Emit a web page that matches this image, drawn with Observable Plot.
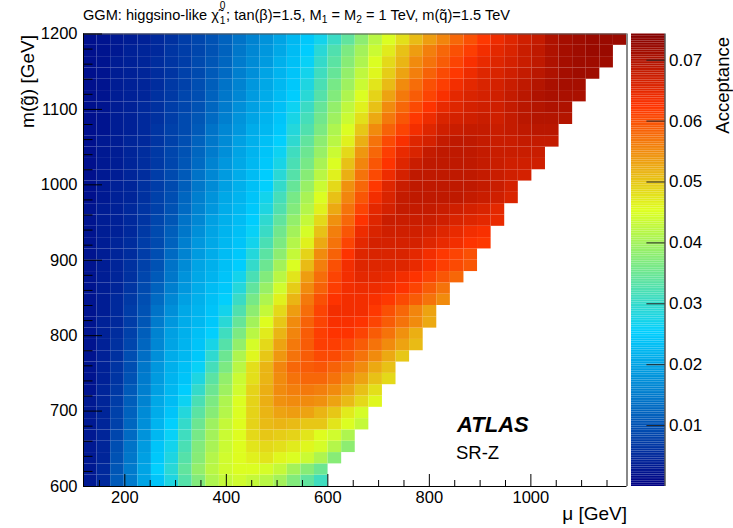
<!DOCTYPE html>
<html>
<head>
<meta charset="utf-8">
<script src="https://cdn.jsdelivr.net/npm/d3@7"></script>
<script src="https://cdn.jsdelivr.net/npm/@observablehq/plot@0.6"></script>
<style>
  body { margin: 0; background: #fff; }
  #wrap { position: relative; width: 733px; height: 528px; font-family: "Liberation Sans", Arial, Helvetica, sans-serif; overflow: hidden; }
  #title { position: absolute; left: 83px; top: 5px; font-size: 14.6px; line-height: 16px; white-space: nowrap; z-index: 3; color: #000; }
  #title sub { font-size: 0.7em; vertical-align: -0.3em; line-height: 0; }
  .ss { display: inline-block; position: relative; width: 0.5em; height: 1em; }
  .ss .up, .ss .dn { position: absolute; left: 0.08em; font-size: 0.7em; line-height: 1; }
  .ss .up { top: -0.35em; }
  .ss .dn { top: 1.05em; }
  #main { position: absolute; left: 0; top: 0; }
  #cbar { position: absolute; left: 631px; top: 0; }
</style>
</head>
<body>
<div id="wrap">
  <div id="title">GGM: higgsino-like &chi;&#771;<span class="ss"><span class="up">0</span><span class="dn">1</span></span>; tan(&beta;)=1.5, M<sub>1</sub> = M<sub>2</sub> = 1 TeV, m(q&#771;)=1.5 TeV</div>
  <div id="main"></div>
  <div id="cbar"></div>
</div>
<script>
// ---- data ----
const muRange = [118.6, 1189.4];   // mu [GeV], binned in 40 columns
const mgRange = [600, 1200];       // m(gluino) [GeV], binned in 40 rows
const nMuBins = 40;
const nMgBins = 40;
const muMajorTicks = [200, 400, 600, 800, 1000];
const mgMajorTicks = [600, 700, 800, 900, 1000, 1100, 1200];
const colorbarTicks = [0.01, 0.02, 0.03, 0.04, 0.05, 0.06, 0.07];
const acceptanceMax = 0.0743;
// acceptance in units of 1e-3; row 0 = lowest m(gluino) bin, column 0 = lowest mu bin
const acceptance = [
[3,5,11,15,20,24,28,33,37,41,43,44,43,42,40,37,34,31],
[3,5,10.5,15,20,25.5,29,34,38.5,42,44,45,45,44.5,43,40,37.5,35],
[3,4.5,10,14.5,19.5,24.5,28,33,37.5,41.5,44,45.5,46.5,47.5,46,45,43.5,41,37.5],
[3,4.5,9.5,14,19,24,27,32,37,40.5,43.5,45.5,47.5,48.5,48,47,46,44.5,41.5,38],
[3,4.5,8.5,13,18,22.5,26,31,36,40,43.5,45.5,48.5,50,49.5,49,47.5,45.5,44,41],
[3,4.5,8,12.5,17.5,22,25.5,30,35,39.5,43,45.5,49,51,51.5,51,50,50,47.5,45,43],
[3,4.5,8,12,17,21,24,28.5,33.5,37.5,41.5,45,49,51.5,53,53.5,53,51.5,50,47,44.5],
[3,4.5,7.5,11.5,16,20.5,23,26.5,32,36.5,41,45,49,52,54.5,55,55,54.5,53,51,48.5,46],
[2.5,4.5,7,11,15.5,19.5,22.5,25,30,35,39.5,44,49,52,55,56,56.5,56,55,53,50.5,48],
[2.5,4,6.5,10,15,19,22,24,28,33.5,38.5,43.5,48,51.5,55,57,58,58,57,55,53,50.5,48.5],
[2.5,4,6.5,9.5,14.5,18.5,21.5,23.5,26,31.5,36.5,42,48,51.5,55.5,58,59,59.5,58.5,57,55,52.5,50.5],
[2.5,4,6,9.5,13.5,17.5,21,22.5,24.5,29.5,35,41,46,50,54,57,59,60.5,60.5,59,57,55,52.5,50],
[2.5,4,6,8.5,12.5,16.5,20,22,24,27.5,33,38.5,44.5,48.5,53,56.5,59,61.5,61.5,60.5,59,57,55,53,51],
[2.5,4,5.5,8,11.5,16,19.5,21.5,23.5,25.5,31,36.5,42,47,51.5,55.5,59,61.5,62.5,62.5,61,59,57,54.5,52],
[2.5,4,5,7.5,10.5,15,18.5,21,22.5,24.5,29,34.5,40,45.5,50,55,58.5,61,63,63,62.5,61,59,57,55,52.5],
[2.5,3.5,5,7.5,10,14,17.5,20.5,22,24,27,32.5,38,43,48.5,53.5,57.5,61,63.5,63.5,63.5,62,60,58,55.5,53],
[2.5,3.5,5,7,9.5,13,16.5,19.5,21.5,23.5,25.5,30.5,36,41,46.5,51.5,56.5,60,62.5,63.5,63.5,63,62,60.5,59,57,55],
[2.5,3.5,4.5,6.5,9,12,15.5,18.5,21,23,24.5,28.5,34,39,44,49.5,55,58.5,61.5,63.5,64,64,63.5,62.5,61,59,57],
[2.5,3.5,4.5,6,8.5,11,14.5,18,20.5,22,24,27,32,37,42,47.5,53.5,57.5,61,63.5,65,65,64.5,63.5,62.5,61,59.5,58],
[2.5,3.5,4.5,6,8,10,14,17,20,21.5,23.5,25,30,35,40,45,51,56,60,63.5,65.5,65.5,65.5,65.5,64.5,63,61.5,60.5,59.5],
[2.5,3.5,4.5,5.5,7.5,9.5,13,16,19,21,23,24.5,28.5,33.5,38,43,49,55,58.5,62.5,65.5,66,66,66,65,63.5,62,61,60],
[2.5,3.5,4.5,5.5,7.5,9,12,15.5,18.5,20.5,22.5,24,27,32,36.5,41.5,46.5,52.5,57,61,65,66.5,66.5,66.5,66.5,65.5,64.5,63.5,62.5,62],
[2.5,3.5,4,5,7,9,11.5,14.5,17.5,20,22,23.5,26,30.5,35.5,40,44.5,50.5,56,59.5,64,66,67,67,67,66.5,65.5,64.5,63.5,63],
[2.5,3.5,4,5,6.5,8.5,10.5,14,16.5,19.5,21.5,23,25,29.5,34,38.5,43,48.5,54.5,58,62.5,65.5,67.5,67.5,67.5,67.5,67,66,65.5,65,64.5],
[2.5,3.5,4,5,6.5,8,10,13,16,18.5,21,22.5,24.5,28,32.5,37,41.5,46.5,52.5,57,61,65,66.5,68,68,68,67.5,67,66.5,66,65],
[2,3,4,4.5,6,8,9.5,12.5,15.5,18,20.5,22,24,27,31.5,36,40.5,45,50.5,55.5,59.5,63.5,66,68,68.5,68.5,68.5,68.5,68,67.5,67,66],
[2,3,4,4.5,6,7.5,9,11.5,14.5,17,19.5,21.5,23.5,25.5,30,34.5,39,43.5,48.5,54.5,58,62,65.5,67.5,68.5,68.5,68.5,68.5,68.5,68,67.5,66.5],
[2,3,3.5,4.5,5.5,7.5,9,11,14,16.5,19,21,23,25,29,33,37.5,42,46.5,52,57,60.5,64,66.5,68.5,68.5,68.5,68.5,68.5,68,67.5,67,66.5],
[2,3,3.5,4.5,5.5,7,8.5,10.5,13,16,18.5,20.5,22.5,24.5,27.5,32,36,40.5,45,50.5,55.5,59.5,62.5,65.5,67.5,68.5,68.5,68.5,68.5,68,67.5,67,67,67],
[2,3,3.5,4.5,5.5,7,8.5,10,12.5,15,17.5,20,22,24,26.5,31,35,39,43.5,48.5,54,58,61.5,64.5,66,68,68.5,68.5,68.5,68,67.5,67.5,67.5,67.5],
[2,3,3.5,4.5,5,6.5,8,9.5,12,14.5,17,19.5,21.5,23.5,25.5,29.5,34,38,42,46.5,52,57,60.5,63,65.5,66.5,68,68.5,68.5,68,67.5,67.5,68,68,68],
[2,2.5,3.5,4,5,6.5,8,9,11,14,16.5,18.5,21,22.5,24.5,28.5,32.5,36.5,41,45,50,55,58.5,61,63.5,65.5,67,67.5,68,68,67.5,68,68.5,69,69],
[2,2.5,3.5,4,5,6,7.5,9,10.5,13,15.5,18,20,22,24,27.5,31.5,35.5,39.5,43.5,48,52.5,56.5,59.5,62,64,66,66.5,67,67.5,67,68,69,69.5,69.5,69.5],
[2,2.5,3.5,4,5,6,7.5,8.5,10,12.5,15,17.5,19.5,21.5,23.5,26.5,30.5,34.5,38.5,42.5,46.5,50.5,55,58,60.5,62.5,64.5,65.5,66.5,67,67,68,69,69.5,70,70],
[2,2.5,3.5,4,4.5,6,7,8.5,9.5,12,14.5,16.5,19,21,23,25,29,33,37,41,45,49,53,56.5,59,61,63,65,66,66.5,67,68,69,70,70.5,70.5,70.5],
[2,2.5,3.5,4,4.5,5.5,7,8,9.5,11.5,14,16,18.5,20.5,22.5,24.5,28,32,36,39.5,43.5,47.5,51,55,57.5,60,61.5,63.5,65,66,66.5,67.5,68.5,69.5,70.5,71,71],
[2,2.5,3.5,4,4.5,5.5,6.5,8,9,11,13,15.5,17.5,20,22,24,27,31,34.5,38.5,42.5,46,49.5,53,56,58.5,60.5,62,64,65.5,66,67,68,69,70,71,71.5,71.5],
[2,2.5,3.5,4,4.5,5.5,6.5,7.5,9,10.5,12.5,15,17,19,21.5,23.5,26,30,33.5,37.5,41,45,48.5,51.5,55,57,59,61,63,64.5,65.5,66.5,67.5,68.5,70,71,71.5,71.5,71.5],
[2,2.5,3,4,4.5,5,6.5,7.5,8.5,10,12,14.5,16.5,18.5,20.5,23,25,29,32.5,36.5,40,43.5,47,50.5,53.5,56,58,60,61.5,63.5,65,66,67.5,68.5,70,71,71.5,72,72],
[2,2.5,3,3.5,4,5,6,7.5,8.5,10,12,14,16,18,20,22.5,24.5,27,30.5,34,38,42,45,48,51,53.5,55.5,58,60,62,64,65.5,67,68,70,71,71.5,72,72,72]
];

// ---- derived geometry (bin edges) ----
const muEdges = d3.range(nMuBins + 1).map(i => muRange[0] + i * (muRange[1] - muRange[0]) / nMuBins);
const mgEdges = d3.range(nMgBins + 1).map(i => mgRange[0] + i * (mgRange[1] - mgRange[0]) / nMgBins);
const cells = [];
acceptance.forEach((row, r) => row.forEach((v, c) => cells.push({
  x1: muEdges[c], x2: muEdges[c + 1], y1: mgEdges[r], y2: mgEdges[r + 1], value: v * 1e-3
})));
const muMinorTicks = d3.range(150, muRange[1], 50).filter(t => !muMajorTicks.includes(t));
const mgMinorTicks = d3.range(620, 1200, 20).filter(t => t % 100 !== 0);

const colorOpts = {
  type: "linear",
  domain: [0, 0.0253, 0.0453, 0.0624, acceptanceMax],
  range: ["#000083", "#00cfff", "#deff1f", "#ff3300", "#820000"],
  interpolate: "rgb",
  clamp: true
};

const font = '"Liberation Sans", Arial, Helvetica, sans-serif';
const W = 733, H = 528;
const mL = 83, mR = 106.5, mT = 33.5, mB = 42;
const frameW = W - mL - mR, frameH = H - mT - mB;

const main = Plot.plot({
  width: W, height: H,
  marginLeft: mL, marginRight: mR, marginTop: mT, marginBottom: mB,
  style: {fontFamily: font, fontSize: "16.5px", background: "white", color: "black"},
  x: {domain: muRange},
  y: {domain: mgRange},
  color: colorOpts,
  marks: [
    Plot.rect(cells, {x1: "x1", x2: "x2", y1: "y1", y2: "y2", fill: "value"}),
    // frame
    Plot.ruleY([mgRange[1]], {stroke: "#555", strokeWidth: 1}),
    Plot.ruleX([muRange[1]], {stroke: "#888", strokeWidth: 2}),
    Plot.ruleX([muRange[0]], {stroke: "black", strokeWidth: 1}),
    Plot.ruleY([mgRange[0]], {stroke: "black", strokeWidth: 1}),
    // inward ticks
    Plot.ruleX(muMajorTicks, {insetTop: frameH - 12, stroke: "black"}),
    Plot.ruleX(muMinorTicks, {insetTop: frameH - 6, stroke: "black"}),
    Plot.ruleY(mgMajorTicks, {insetRight: frameW - 19, stroke: "black"}),
    Plot.ruleY(mgMinorTicks, {insetRight: frameW - 9.5, stroke: "black"}),
    // tick labels
    Plot.axisX({ticks: muMajorTicks, tickSize: 0, tickPadding: 5, label: null, tickFormat: d => String(d), fontSize: 16.5}),
    Plot.axisY({ticks: mgMajorTicks, tickSize: 0, tickPadding: 6, label: null, tickFormat: d => String(d), fontSize: 16.5}),
    // axis titles
    Plot.text(["\u03bc [GeV]"], {frameAnchor: "bottom-right", textAnchor: "end", lineAnchor: "bottom", dy: 33, fontSize: 19}),
    Plot.text(["m(g\u0303) [GeV]"], {frameAnchor: "top-left", rotate: -90, textAnchor: "end", lineAnchor: "bottom", dx: -50, dy: 1, fontSize: 19}),
    // annotations
    Plot.text(["ATLAS"], {frameAnchor: "top-left", textAnchor: "start", lineAnchor: "bottom", dx: 373.5, dy: 398, fontSize: 22, fontWeight: "bold", fontStyle: "italic"}),
    Plot.text(["SR-Z"], {frameAnchor: "top-left", textAnchor: "start", lineAnchor: "bottom", dx: 372.5, dy: 424.5, fontSize: 18.5})
  ]
});
document.getElementById("main").appendChild(main);

// ---- colour bar ----
const nSlices = 255;
const slices = d3.range(nSlices).map(i => [i * acceptanceMax / nSlices, (i + 1) * acceptanceMax / nSlices]);
const cbW = 102, cbBar = 33.5;
const cbar = Plot.plot({
  width: cbW, height: H,
  marginLeft: 0, marginRight: cbW - cbBar, marginTop: mT, marginBottom: mB,
  style: {fontFamily: font, fontSize: "17px", background: "white", color: "black"},
  x: {domain: [0, 1], axis: null},
  y: {domain: [0, acceptanceMax], axis: null},
  color: colorOpts,
  marks: [
    Plot.rect(slices, {x1: () => 0, x2: () => 1, y1: d => d[0], y2: d => d[1], fill: d => (d[0] + d[1]) / 2}),
    Plot.ruleY(colorbarTicks, {x1: () => 0.46, x2: () => 1, stroke: "#222"}),
    Plot.ruleX([1], {stroke: "black"}),
    Plot.text(colorbarTicks, {y: d => d, text: d => d.toFixed(2), frameAnchor: "right", textAnchor: "start", dx: 4, fontSize: 17}),
    Plot.text(["Acceptance"], {frameAnchor: "top-right", rotate: -90, textAnchor: "end", lineAnchor: "bottom", dx: 64, dy: 3, fontSize: 18.5})
  ]
});
document.getElementById("cbar").appendChild(cbar);
</script>
</body>
</html>
